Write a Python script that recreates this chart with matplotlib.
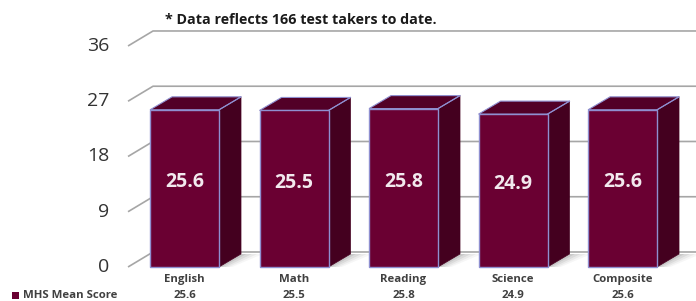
import matplotlib
matplotlib.use("Agg")
import matplotlib.pyplot as plt
from matplotlib.patches import Polygon

categories = ["English", "Math", "Reading", "Science", "Composite"]
scores = [25.6, 25.5, 25.8, 24.9, 25.6]
yticks = [0, 9, 18, 27, 36]
series_name = "MHS Mean Score"
note = "* Data reflects 166 test takers to date."

FONT = ["Open Sans", "DejaVu Sans"]

fig = plt.figure(figsize=(6.96, 3.01), dpi=100)
ax = fig.add_axes([0, 0, 1, 1])
ax.set_xlim(-1.685, 4.671)
ax.set_ylim(-5.54, 43.49)
ax.axis("off")

PXX = 109.5
PXY = 6.139
# wall geometry
wx0 = (128 - 184.5) / PXX
wdx = 25 / PXX
wdy = 15 / PXY
# bar geometry
hw = 0.315
bdx = 22 / PXX
bdy = 13 / PXY

grid_c = "#a6a6a6"
for t in yticks:
    ax.plot([wx0, wx0 + wdx, 4.7], [t, t + wdy, t + wdy], color=grid_c, lw=1.2,
            zorder=1, solid_capstyle="butt")
    ax.text(wx0 - 0.17, t, str(t), ha="right", va="center", fontsize=14,
            color="#333333", family=FONT)

front_c = "#6a0032"
side_c = "#44001f"
top_c = "#520027"
edge_c = "#8f8fd0"

for i, v in enumerate(scores):
    xl, xr = i - hw, i + hw
    # shadow on the floor
    for k, a in enumerate([0.10, 0.08, 0.06, 0.04]):
        ext = 0.05 + 0.05 * k
        sh = Polygon([(xr, 0), (xr + bdx, bdy), (xr + bdx + ext, bdy),
                      (xr + ext * 0.6, 0)], closed=True,
                     facecolor="#303030", alpha=a, edgecolor="none", zorder=2)
        ax.add_patch(sh)
    side = Polygon([(xr, 0), (xr + bdx, bdy), (xr + bdx, v + bdy), (xr, v)],
                   closed=True, facecolor=side_c, edgecolor=side_c, lw=0.5, zorder=3)
    top = Polygon([(xl, v), (xl + bdx, v + bdy), (xr + bdx, v + bdy), (xr, v)],
                  closed=True, facecolor=top_c, edgecolor=edge_c, lw=0.8, zorder=3)
    front = Polygon([(xl, 0), (xr, 0), (xr, v), (xl, v)], closed=True,
                    facecolor=front_c, edgecolor=edge_c, lw=1.0, zorder=4)
    ax.add_patch(side)
    ax.add_patch(top)
    ax.add_patch(front)
    ax.plot([xr, xr + bdx], [v, v + bdy], color=edge_c, lw=0.8, zorder=5)
    ax.text(i, v / 2 + 1.0, f"{v:.1f}", ha="center", va="center", fontsize=14,
            fontweight="bold", color="#f2e9ee", family=FONT, zorder=6)
    ax.text(i, -2.0, categories[i], ha="center", va="center", fontsize=8.2,
            fontweight="bold", color="#404040", family=FONT)
    ax.text(i, -4.65, f"{v:.1f}", ha="center", va="center", fontsize=8.2,
            fontweight="bold", color="#404040", family=FONT)

# legend
fig.patches.append(Polygon([(12 / 696, 1 - 299 / 301), (19 / 696, 1 - 299 / 301),
                            (19 / 696, 1 - 292 / 301), (12 / 696, 1 - 292 / 301)],
                           closed=True, transform=fig.transFigure,
                           facecolor=front_c, edgecolor="none"))
fig.text(23 / 696, 1 - 295.5 / 301, series_name, ha="left", va="center", fontsize=8.2,
         fontweight="bold", color="#404040", family=FONT)

fig.text(165 / 696, 1 - 20 / 301, note, ha="left", va="center", fontsize=10.3,
         fontweight="bold", color="#1a1a1a", family=FONT)

fig.savefig("out.png", dpi=100)
